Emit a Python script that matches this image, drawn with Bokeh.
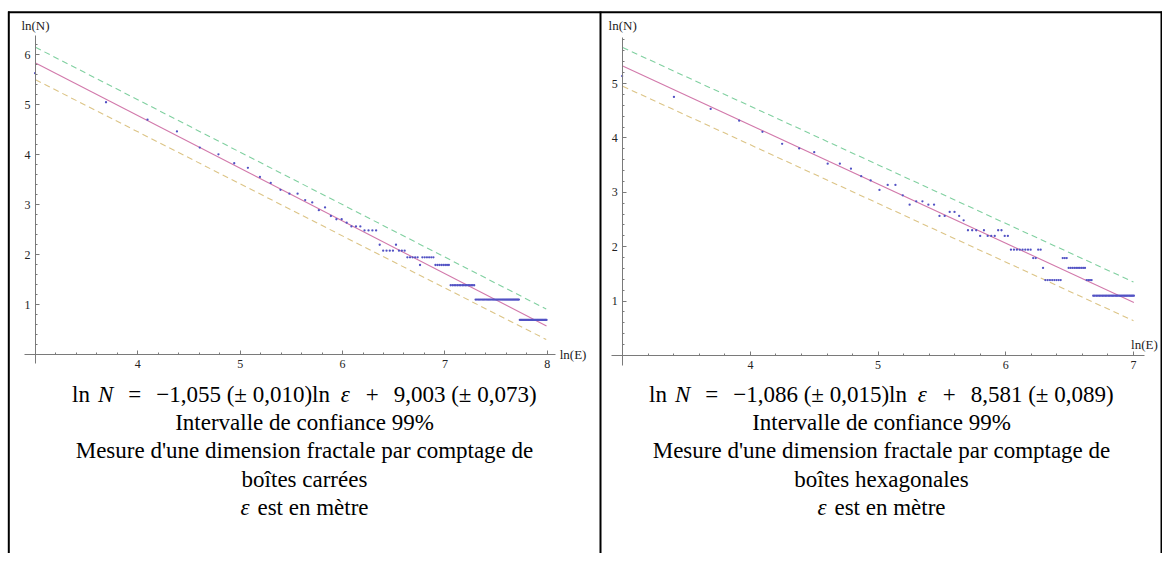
import numpy as np
from bokeh.plotting import figure
from bokeh.models import Range1d, LinearAxis, FixedTicker
from bokeh.core.properties import value
from bokeh.embed import file_html
from bokeh.resources import INLINE

# ---------------- data ----------------
# square boxes: box size epsilon (m) and number of boxes N
eps_squares = [
    20, 40, 60, 80, 100, 120, 140, 160, 180, 200,
    220, 240, 260, 280, 300, 320, 340, 360, 380, 400,
    420, 440, 460, 480, 500, 520, 540, 560, 580, 600,
    620, 640, 660, 680, 700, 720, 740, 760, 780, 800,
    820, 840, 860, 880, 900, 920, 940, 960, 980, 1000,
    1020, 1040, 1060, 1080, 1100, 1120, 1140, 1160, 1180, 1200,
    1220, 1240, 1260, 1280, 1300, 1320, 1340, 1360, 1380, 1400,
    1420, 1440, 1460, 1480, 1500, 1520, 1540, 1560, 1580, 1600,
    1620, 1640, 1660, 1680, 1700, 1720, 1740, 1760, 1780, 1800,
    1820, 1840, 1860, 1880, 1900, 1920, 1940, 1960, 1980, 2000,
    2020, 2040, 2060, 2080, 2100, 2120, 2140, 2160, 2180, 2200,
    2220, 2240, 2260, 2280, 2300, 2320, 2340, 2360, 2380, 2400,
    2420, 2440, 2460, 2480, 2500, 2520, 2540, 2560, 2580, 2600,
    2620, 2640, 2660, 2680, 2700, 2720, 2740, 2760, 2780, 2800,
    2820, 2840, 2860, 2880, 2900, 2920, 2940, 2960]
n_squares = [
    279, 156, 110, 87, 63, 55, 46, 42, 35, 31,
    27, 25, 25, 22, 21, 18, 19, 16, 15, 15,
    14, 13, 13, 13, 12, 12, 12, 12, 9, 8,
    8, 8, 8, 9, 8, 8, 8, 7, 7, 7,
    7, 7, 6, 7, 7, 7, 7, 7, 7, 6,
    6, 6, 6, 6, 6, 6, 6, 4, 4, 4,
    4, 4, 4, 4, 4, 4, 4, 4, 4, 4,
    4, 4, 4, 3, 3, 3, 3, 3, 3, 3,
    3, 3, 3, 3, 3, 3, 3, 3, 3, 3,
    3, 3, 3, 3, 3, 3, 3, 3, 3, 3,
    3, 3, 3, 3, 3, 3, 3, 3, 3, 3,
    3, 3, 3, 2, 2, 2, 2, 2, 2, 2,
    2, 2, 2, 2, 2, 2, 2, 2, 2, 2,
    2, 2, 2, 2, 2, 2, 2, 2, 2, 2,
    2, 2, 2, 2, 2, 2, 2, 2]

# hexagonal boxes
eps_hex = [
    20, 30, 40, 50, 60, 70, 80, 90, 100, 110,
    120, 130, 140, 150, 160, 170, 180, 190, 200, 210,
    220, 230, 240, 250, 260, 270, 280, 290, 300, 310,
    320, 330, 340, 350, 360, 370, 380, 390, 400, 410,
    420, 430, 440, 450, 460, 470, 480, 490, 500, 510,
    520, 530, 540, 550, 560, 570, 580, 590, 600, 610,
    620, 630, 640, 650, 660, 670, 680, 690, 700, 710,
    720, 730, 740, 750, 760, 770, 780, 790, 800, 810,
    820, 830, 840, 850, 860, 870, 880, 890, 900, 910,
    920, 930, 940, 950, 960, 970, 980, 990, 1000, 1010,
    1020, 1030, 1040, 1050, 1060, 1070, 1080, 1090, 1100]
n_hex = [
    170, 116, 93, 75, 61, 49, 45, 42, 34, 34,
    31, 27, 25, 21, 23, 23, 19, 16, 17, 17,
    16, 16, 13, 13, 14, 14, 13, 12, 10, 10,
    10, 9, 10, 9, 9, 9, 10, 10, 9, 9,
    7, 7, 7, 7, 7, 7, 7, 7, 6, 6,
    7, 7, 5, 4, 4, 4, 4, 4, 4, 4,
    4, 6, 6, 6, 5, 5, 5, 5, 5, 5,
    5, 5, 5, 5, 4, 4, 4, 4, 3, 3,
    3, 3, 3, 3, 3, 3, 3, 3, 3, 3,
    3, 3, 3, 3, 3, 3, 3, 3, 3, 3,
    3, 3, 3, 3, 3, 3, 3, 3, 3]

# fitted lines (slope, intercept) from the captions
fit_squares = (-1.055, 9.003)
fit_hex = (-1.086, 8.581)

# 99% band lines, end points (ln E, ln N)
band_sq_x = [3.0, 7.99]
band_sq_upper = [6.15, 0.91]
band_sq_lower = [5.50, 0.30]
band_hex_x = [3.0, 7.0]
band_hex_upper = [5.66, 1.35]
band_hex_lower = [4.95, 0.64]

ticks_sq_x = [4, 5, 6, 7, 8]
ticks_sq_y = [1, 2, 3, 4, 5, 6]
ticks_hex_x = [4, 5, 6, 7]
ticks_hex_y = [1, 2, 3, 4, 5]

caption_sq = ["Intervalle de confiance 99%",
              "Mesure d'une dimension fractale par comptage de",
              "boîtes carrées"]
caption_hex = ["Intervalle de confiance 99%",
               "Mesure d'une dimension fractale par comptage de",
               "boîtes hexagonales"]
eq_sq = ["−1,055 (± 0,010)ln", "9,003 (± 0,073)"]
eq_hex = ["−1,086 (± 0,015)ln", "8,581 (± 0,089)"]
unit_text = "est en mètre"

# ---------------- figure ----------------
W, H = 1162, 553
p = figure(width=W, height=H, output_backend="svg", toolbar_location=None,
           x_axis_type=None, y_axis_type=None,
           x_range=Range1d(0, W), y_range=Range1d(H, 0),
           min_border=0, outline_line_color=None)
p.background_fill_color = "white"
p.border_fill_color = "white"

# pixel anchored data ranges for the two plots
def lin_range(v0, px0, ppu, lo_px, hi_px, flip=False):
    if flip:
        return Range1d(v0 + (px0 - hi_px) / ppu, v0 + (px0 - lo_px) / ppu)
    return Range1d(v0 + (lo_px - px0) / ppu, v0 + (hi_px - px0) / ppu)

p.extra_x_ranges = {
    "lx": lin_range(3.0, 35.0, 102.35, 0, W),
    "rx": lin_range(3.0, 622.2, 127.7, 0, W),
}
p.extra_y_ranges = {
    "ly": lin_range(0.0, 354.0, 49.95, 0, H, flip=True),
    "ry": lin_range(0.0, 355.0, 54.4, 0, H, flip=True),
}

AX = "#7a7a7a"
FONT = "Liberation Serif"

def add_axes(xr, yr, xb, yb, xt, yt):
    xminor = [round(v, 1) for v in np.arange(3.2, xb[1], 0.2) if abs(v - round(v)) > 1e-6]
    yminor = [round(v, 1) for v in np.arange(0.2, yb[1], 0.2) if abs(v - round(v)) > 1e-6]
    xa = LinearAxis(x_range_name=xr, y_range_name=yr, fixed_location=0, bounds=xb,
                    ticker=FixedTicker(ticks=xt, minor_ticks=xminor))
    ya = LinearAxis(x_range_name=xr, y_range_name=yr, fixed_location=3, bounds=yb,
                    ticker=FixedTicker(ticks=yt, minor_ticks=yminor))
    for a in (xa, ya):
        a.axis_line_color = AX
        a.major_tick_line_color = AX
        a.minor_tick_line_color = AX
        a.major_tick_in = 4
        a.major_tick_out = 0
        a.minor_tick_in = 2
        a.minor_tick_out = 0
        a.major_label_text_font = FONT
        a.major_label_text_font_size = "12px"
        a.major_label_text_color = "#222222"
        a.major_label_standoff = 5
    p.add_layout(xa, "below")
    p.add_layout(ya, "left")

add_axes("lx", "ly", (2.892, 8.083), (-0.18, 6.386), ticks_sq_x, ticks_sq_y)
add_axes("rx", "ry", (2.911, 7.089), (-0.18, 5.85), ticks_hex_x, ticks_hex_y)

PT = "#5252c4"
FIT = "#d279ab"
UP = "#80d0a0"
LO = "#dcc486"

def draw_panel(xr, yr, eps, counts, fit, bx, bu, bl):
    lx = np.log(np.array(eps, dtype=float))
    ly = np.log(np.array(counts, dtype=float))
    fx = [lx.min(), lx.max()]
    fy = [fit[1] + fit[0] * v for v in fx]
    p.line(bx, bu, x_range_name=xr, y_range_name=yr, line_color=UP, line_width=1.1,
           line_dash="6 4")
    p.line(bx, bl, x_range_name=xr, y_range_name=yr, line_color=LO, line_width=1.1,
           line_dash="6 4")
    p.line(fx, fy, x_range_name=xr, y_range_name=yr, line_color=FIT, line_width=1.1)
    p.scatter(lx, ly, x_range_name=xr, y_range_name=yr, marker="circle", size=2.3,
              fill_color=PT, line_color=None)

draw_panel("lx", "ly", eps_squares, n_squares, fit_squares, band_sq_x, band_sq_upper, band_sq_lower)
draw_panel("rx", "ry", eps_hex, n_hex, fit_hex, band_hex_x, band_hex_upper, band_hex_lower)

# axis names
lab = dict(text_font=value(FONT), text_font_size="13px", text_color="#222222",
           text_baseline="middle")
p.text(x=[3.0], y=[6.59], text=["ln(N)"], x_range_name="lx", y_range_name="ly",
       text_align="center", **lab)
p.text(x=[8.122], y=[0.0], text=["ln(E)"], x_range_name="lx", y_range_name="ly",
       text_align="left", **lab)
p.text(x=[3.0], y=[6.07], text=["ln(N)"], x_range_name="rx", y_range_name="ry",
       text_align="center", **lab)
p.text(x=[7.19], y=[0.2], text=["ln(E)"], x_range_name="rx", y_range_name="ry",
       text_align="right", **lab)

# table borders (pixel coordinates)
p.segment(x0=[7.5], y0=[11.8], x1=[W], y1=[11.8], line_color="black", line_width=2)
p.segment(x0=[8.3, 600, 1161], y0=[11, 11, 11], x1=[8.3, 600, 1161], y1=[H, H, H],
          line_color="black", line_width=2)

# captions
REG = {' ': 250, 'l': 278, 'n': 500, '=': 564, '−': 564, ',': 250, '(': 333, ')': 333,
       '±': 564, '+': 564, 'e': 444, 's': 389, 't': 278, 'm': 778, 'è': 444, 'r': 333}
ITA = {'N': 667, 'ε': 439}
FS = 23

def wid(s, italic):
    t = ITA if italic else REG
    return sum(t.get(c, 500) for c in s) * FS / 1000.0

def draw_segments(cx, y, segs):
    total = sum(wid(s, it) + g * FS for s, it, g in segs)
    x = cx - total / 2.0
    for s, it, g in segs:
        x += g * FS
        p.text(x=[x], y=[y], text=[s], text_font=value(FONT), text_font_size=f"{FS}px",
               text_font_style="italic" if it else "normal", text_color="black",
               text_align="left", text_baseline="middle")
        x += wid(s, it)

LINE_Y = [394, 422, 450, 479, 507]

def caption(cx, eq, lines):
    draw_segments(cx, LINE_Y[0], [("ln", False, 0), ("N", True, 0.35), ("=", False, 0.65),
                                  (eq[0], False, 0.65), ("ε", True, 0.45),
                                  ("+", False, 0.65), (eq[1], False, 0.65)])
    p.text(x=[cx] * 3, y=LINE_Y[1:4], text=lines, text_font=value(FONT),
           text_font_size=f"{FS}px", text_color="black", text_align="center",
           text_baseline="middle")
    draw_segments(cx, LINE_Y[4], [("ε", True, 0), (unit_text, False, 0.3)])

caption(304, eq_sq, caption_sq)
caption(881, eq_hex, caption_hex)

open("out.html", "w").write(file_html(p, INLINE))
